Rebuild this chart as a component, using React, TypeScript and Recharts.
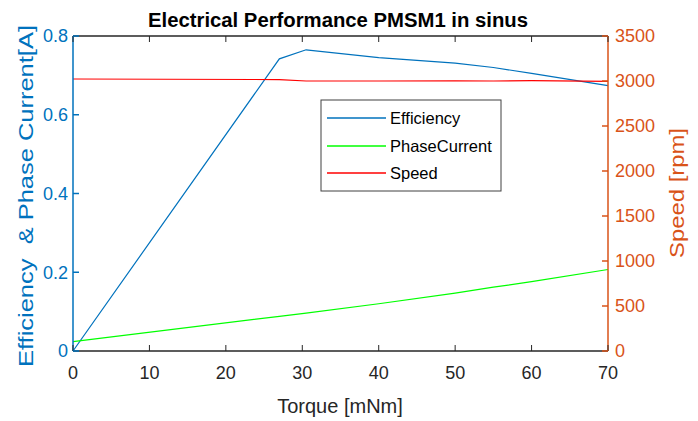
import React from "react";
import {
	LineChart,
	Line,
	XAxis,
	YAxis,
	Customized,
} from "recharts";

// values
const torque = [0, 27, 30.5, 40, 50, 55, 60, 70];
const efficiency = [0, 0.742, 0.765, 0.745, 0.731, 0.72, 0.705, 0.674];
const phaseCurrent = [0.024, 0.088, 0.096, 0.12, 0.147, 0.162, 0.176, 0.207];
const speed = [3022, 3016, 3000, 3000, 3002, 3000, 3004, 2996];

const xTicks = [0, 10, 20, 30, 40, 50, 60, 70];
const leftTicks = [0, 0.2, 0.4, 0.6, 0.8];
const rightTicks = [0, 500, 1000, 1500, 2000, 2500, 3000, 3500];

const seriesNames = ["Efficiency", "PhaseCurrent", "Speed"];
const seriesColors = ["#0072BD", "#00FF00", "#FF0000"];

const BLUE = "#0072BD";
const ORANGE = "#D95319";
const DARK = "#262626";
const FONT = "'Liberation Sans', Arial, Helvetica, sans-serif";

const data = torque.map((t, i) => ({
	torque: t,
	Efficiency: efficiency[i],
	PhaseCurrent: phaseCurrent[i],
	Speed: speed[i],
}));

const BottomTick = (props: any) => {
	const { x, y, payload } = props;
	return (
		<g>
			<line x1={x} y1={y} x2={x} y2={y - 6} stroke={DARK} strokeWidth={1} />
			<text x={x} y={y + 28} textAnchor="middle" fill={DARK} fontSize={18} fontFamily={FONT}>
				{payload.value}
			</text>
		</g>
	);
};

const TopTick = (props: any) => {
	const { x, y } = props;
	return <line x1={x} y1={y} x2={x} y2={y + 6} stroke={DARK} strokeWidth={1} />;
};

const LeftTick = (props: any) => {
	const { x, y, payload } = props;
	return (
		<g>
			<line x1={x} y1={y} x2={x + 6} y2={y} stroke={BLUE} strokeWidth={1.5} />
			<text x={x - 5} y={y} dy="0.36em" textAnchor="end" fill={BLUE} fontSize={18} fontFamily={FONT}>
				{String(payload.value)}
			</text>
		</g>
	);
};

const RightTick = (props: any) => {
	const { x, y, payload } = props;
	return (
		<g>
			<line x1={x} y1={y} x2={x - 6} y2={y} stroke={ORANGE} strokeWidth={1.5} />
			<text x={x + 7} y={y} dy="0.36em" textAnchor="start" fill={ORANGE} fontSize={18} fontFamily={FONT}>
				{payload.value}
			</text>
		</g>
	);
};

const legendRows = [118, 146, 173];

const Labels = () => (
	<g fontFamily={FONT}>
		<text x={338} y={27} textAnchor="middle" fontSize={20} fontWeight="bold" fill="#000" textLength={380} lengthAdjust="spacingAndGlyphs">
			Electrical Performance PMSM1 in sinus
		</text>
		<text x={340} y={413} textAnchor="middle" fontSize={20} fill={DARK}>
			Torque [mNm]
		</text>
		<text
			x={196}
			y={0}
			textAnchor="middle"
			fontSize={20}
			fill={BLUE}
			transform="translate(33 0) rotate(-90 0 0) translate(-392 0)"
			textLength={342}
			lengthAdjust="spacingAndGlyphs"
			style={{ whiteSpace: "pre" }}
		>
			{"Efficiency  & Phase Current[A]"}
		</text>
		<text
			x={-193}
			y={0}
			textAnchor="middle"
			fontSize={20}
			fill={ORANGE}
			transform="translate(684 0) rotate(-90)"
			textLength={130}
			lengthAdjust="spacingAndGlyphs"
		>
			Speed [rpm]
		</text>
		{/* legend */}
		<rect x={321} y={100} width={180} height={91} fill="#fff" stroke="#404040" strokeWidth={1} />
		{seriesNames.map((name, i) => (
			<g key={name}>
				<path d={`M327,${legendRows[i]}H386`} fill="none" stroke={seriesColors[i]} strokeWidth={1.3} />
				<text x={390} y={legendRows[i]} dy="0.36em" fontSize={16.5} fill="#000">
					{name}
				</text>
			</g>
		))}
	</g>
);

const App: React.FC = () => {
	return (
		<div style={{ position: "absolute", left: 0, top: 0, width: 698, height: 421, background: "#fff" }}>
			<LineChart
				width={698}
				height={421}
				data={data}
				margin={{ top: 26, right: 30, left: 13, bottom: 40 }}
			>
				<XAxis
					dataKey="torque"
					type="number"
					domain={[0, 70]}
					ticks={xTicks}
					interval={0}
					height={30}
					tickSize={0}
					tickMargin={0}
					tickLine={false}
					tick={<BottomTick />}
					axisLine={{ stroke: DARK, strokeWidth: 1.5 }}
				/>
				<XAxis
					xAxisId="top"
					orientation="top"
					dataKey="torque"
					type="number"
					domain={[0, 70]}
					ticks={xTicks}
					interval={0}
					height={10}
					tickSize={0}
					tickMargin={0}
					tickLine={false}
					tick={<TopTick />}
					axisLine={{ stroke: DARK, strokeWidth: 1.5 }}
				/>
				<YAxis
					yAxisId="left"
					domain={[0, 0.8]}
					ticks={leftTicks}
					interval={0}
					width={60}
					tickSize={0}
					tickMargin={0}
					tickLine={false}
					tick={<LeftTick />}
					axisLine={{ stroke: BLUE, strokeWidth: 1.5 }}
				/>
				<YAxis
					yAxisId="right"
					orientation="right"
					domain={[0, 3500]}
					ticks={rightTicks}
					interval={0}
					width={60}
					tickSize={0}
					tickMargin={0}
					tickLine={false}
					tick={<RightTick />}
					axisLine={{ stroke: ORANGE, strokeWidth: 1.5 }}
				/>
				<Line
					yAxisId="left"
					type="linear"
					dataKey="Efficiency"
					stroke={seriesColors[0]}
					strokeWidth={1.2}
					dot={false}
					activeDot={false}
					isAnimationActive={false}
				/>
				<Line
					yAxisId="left"
					type="linear"
					dataKey="PhaseCurrent"
					stroke={seriesColors[1]}
					strokeWidth={1.2}
					dot={false}
					activeDot={false}
					isAnimationActive={false}
				/>
				<Line
					yAxisId="right"
					type="linear"
					dataKey="Speed"
					stroke={seriesColors[2]}
					strokeWidth={1.2}
					dot={false}
					activeDot={false}
					isAnimationActive={false}
				/>
				<Customized component={Labels} />
			</LineChart>
		</div>
	);
};

export default App;
